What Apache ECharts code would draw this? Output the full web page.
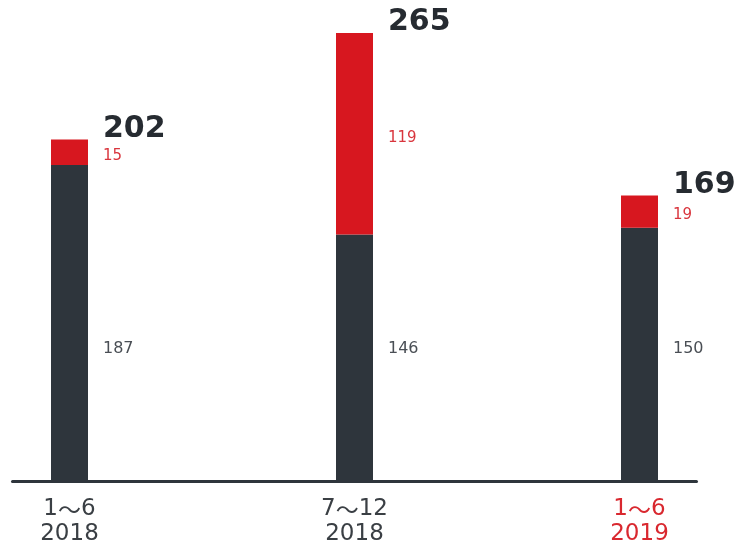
<!DOCTYPE html>
<html>
<head>
<meta charset="utf-8">
<script src="https://cdn.jsdelivr.net/npm/echarts@6/dist/echarts.min.js"></script>
<style>html,body{margin:0;padding:0;background:#fff}#c{width:739px;height:544px}</style>
</head>
<body>
<div id="c"></div>
<script>
var periodStart = ['1', '7', '1'];
var periodEnd = ['6', '12', '6'];
var years = ['2018', '2018', '2019'];
var baseValues = [187, 146, 150];
var addValues = [15, 119, 19];
var totals = [202, 265, 169];

var DARK = '#2e353c';
var RED = '#d7171f';
var FONT = 'DejaVu Sans';
var CJK = 'Noto Sans CJK SC';

var idx = baseValues.map(function (v, i) { return i; });
var chart = echarts.init(document.getElementById('c'));
chart.setOption({
  animation: false,
  backgroundColor: '#fff',
  grid: [
    { left: 12.5, right: 42.5, top: 33, bottom: 62.5, outerBoundsMode: 'none', containLabel: false },
    { left: 69.5, right: 99.5, top: 33, bottom: 62.5, outerBoundsMode: 'none', containLabel: false }
  ],
  xAxis: [
    { type: 'value', gridIndex: 0, min: -0.2, max: 2.2,
      axisLine: { show: true, lineStyle: { color: DARK, width: 3 } },
      axisTick: { show: false }, axisLabel: { show: false }, splitLine: { show: false } },
    { type: 'category', gridIndex: 1, boundaryGap: false, data: idx,
      axisLine: { show: false }, axisTick: { show: false }, splitLine: { show: false },
      axisLabel: {
        margin: 15,
        interval: 0,
        formatter: function (v) {
          var i = +v;
          var st = (i === 2) ? 'r' : 'd';
          return '{' + st + '|' + periodStart[i] + '}{' + st + 'w|～}{' + st + '|' + periodEnd[i] + '}\n{' + st + '|' + years[i] + '}';
        },
        rich: {
          d: { fontFamily: FONT, fontSize: 23, color: '#3a3f44', lineHeight: 25 },
          dw: { fontFamily: CJK, fontSize: 23, color: '#3a3f44', lineHeight: 25 },
          r: { fontFamily: FONT, fontSize: 23, color: '#d9282f', lineHeight: 25 },
          rw: { fontFamily: CJK, fontSize: 23, color: '#d9282f', lineHeight: 25 }
        }
      } }
  ],
  yAxis: [
    { type: 'value', gridIndex: 0, min: 0, max: 265, show: false },
    { type: 'value', gridIndex: 1, min: 0, max: 265, show: false }
  ],
  series: [
    {
      type: 'bar', xAxisIndex: 1, yAxisIndex: 1, stack: 's', barWidth: 37,
      itemStyle: { color: DARK },
      data: baseValues,
      label: {
        show: true, position: 'insideBottom', distance: 125, align: 'left', offset: [33.5, 0],
        fontFamily: FONT, fontSize: 16, color: '#4a4f55'
      }
    },
    {
      type: 'bar', xAxisIndex: 1, yAxisIndex: 1, stack: 's', barWidth: 37,
      itemStyle: { color: RED },
      data: addValues,
      label: {
        show: true, position: 'right', distance: 15, offset: [0, 4],
        fontFamily: FONT, fontSize: 15, color: '#d9353d'
      }
    },
    {
      type: 'scatter', xAxisIndex: 1, yAxisIndex: 1, symbolSize: 0,
      itemStyle: { opacity: 1 },
      data: totals,
      label: {
        show: true, position: 'right', distance: 33.5, offset: [0, -10.5],
        fontFamily: FONT, fontSize: 30, fontWeight: 'bold', color: '#262b31'
      }
    }
  ]
});
</script>
</body>
</html>
